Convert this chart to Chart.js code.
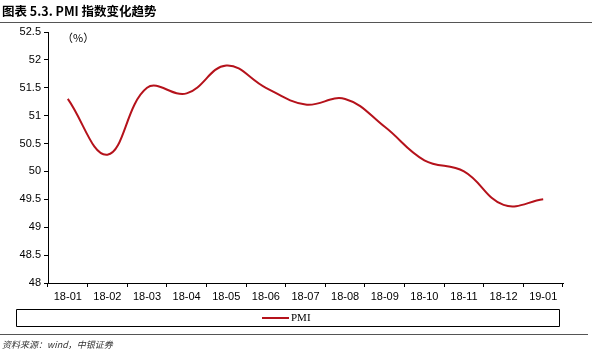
<!DOCTYPE html>
<html>
<head>
<meta charset="utf-8">
<script src="https://cdn.jsdelivr.net/npm/chart.js@4/dist/chart.umd.min.js"></script>
<style>
  html, body { margin: 0; padding: 0; background: #fff; }
  #wrap { width: 600px; height: 354px; position: relative; }
</style>
</head>
<body>
<div id="wrap"><canvas id="c" width="600" height="354"></canvas></div>
<script>
const months = ["18-01", "18-02", "18-03", "18-04", "18-05", "18-06", "18-07",
  "18-08", "18-09", "18-10", "18-11", "18-12", "19-01"];
const pmi = [51.3, 50.3, 51.5, 51.4, 51.9, 51.5, 51.2, 51.3, 50.8, 50.2, 50.0, 49.4, 49.5];
const yTicks = [48, 48.5, 49, 49.5, 50, 50.5, 51, 51.5, 52, 52.5];

const titleText = "图表 5.3. PMI 指数变化趋势";
const sourceText = "资料来源：wind，中银证券";
const lineColor = "#b5121b";

// title, rules, unit, legend box, source
const decor = {
  id: "decor",
  afterDraw(chart) {
    const ctx = chart.ctx;
    ctx.save();
    ctx.fillStyle = "#000";
    ctx.textBaseline = "middle";
    ctx.font = "bold 12.5px 'Noto Sans CJK SC', 'Liberation Sans'";
    ctx.fillText(titleText, 2, 11);

    ctx.strokeStyle = "#555";
    ctx.lineWidth = 1;
    ctx.beginPath();
    ctx.moveTo(0, 22.5); ctx.lineTo(592, 22.5);
    ctx.moveTo(0, 334.5); ctx.lineTo(588, 334.5);
    ctx.stroke();

    ctx.font = "11px 'Noto Sans CJK SC', 'Liberation Sans'";
    ctx.fillText("（%）", 62, 38);

    // legend
    ctx.strokeStyle = "#000";
    ctx.beginPath();
    ctx.rect(16.5, 309.5, 543, 17);
    ctx.stroke();
    ctx.strokeStyle = lineColor;
    ctx.lineWidth = 2;
    ctx.beginPath();
    ctx.moveTo(262, 318); ctx.lineTo(289, 318);
    ctx.stroke();
    ctx.font = "11px 'Liberation Serif', serif";
    ctx.fillText(chart.data.datasets[0].label, 291, 318.5);

    ctx.fillStyle = "#333";
    ctx.font = "italic 9px 'Noto Sans CJK SC', 'Liberation Sans'";
    ctx.fillText(sourceText, 2, 345);
    ctx.restore();
  }
};

new Chart(document.getElementById("c"), {
  type: "line",
  data: {
    labels: months,
    datasets: [{
      label: "PMI",
      data: pmi,
      borderColor: lineColor,
      borderWidth: 2,
      pointRadius: 0,
      tension: 0.4,
      fill: false
    }]
  },
  options: {
    responsive: false,
    animation: false,
    layout: { padding: { left: 0, top: 32, right: 37, bottom: 51 } },
    plugins: { legend: { display: false }, tooltip: { enabled: false } },
    scales: {
      x: {
        offset: true,
        grid: { offset: true, drawOnChartArea: false, tickLength: 4, color: "#000" },
        border: { color: "#000", width: 1 },
        ticks: { color: "#000", font: { family: "'Liberation Sans', Arial", size: 11 }, maxRotation: 0, padding: 3 },
        afterFit(s) { s.height = 20; }
      },
      y: {
        min: 48,
        max: 52.5,
        afterBuildTicks(s) { s.ticks = yTicks.map(v => ({ value: v })); },
        grid: { drawOnChartArea: false, tickLength: 4, color: "#000" },
        border: { color: "#000", width: 1 },
        ticks: {
          color: "#000",
          font: { family: "'Liberation Sans', Arial", size: 11 },
          padding: 3,
          callback: v => String(v)
        },
        afterFit(s) { s.width = 48; }
      }
    }
  },
  plugins: [decor]
});
</script>
</body>
</html>
